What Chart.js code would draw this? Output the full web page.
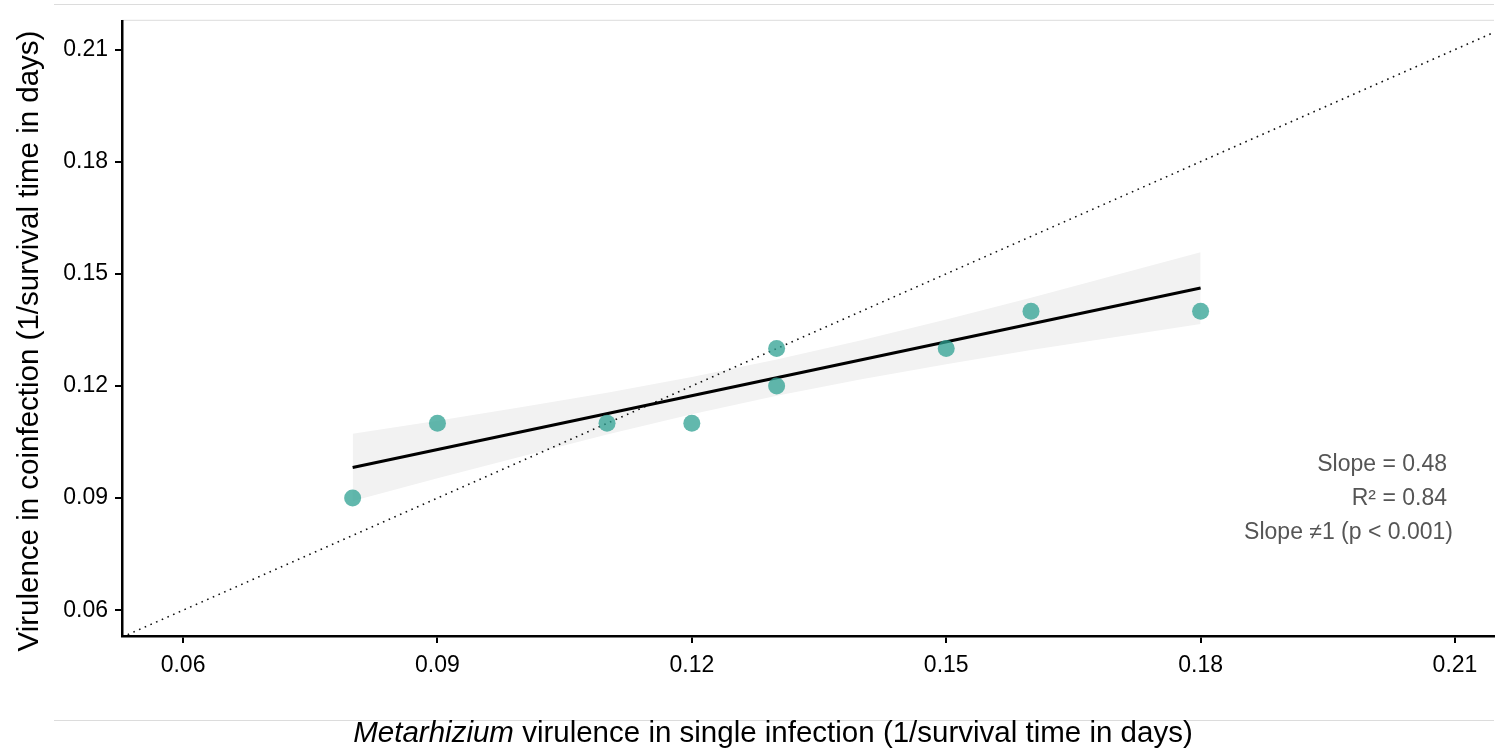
<!DOCTYPE html>
<html>
<head>
<meta charset="utf-8">
<script src="https://cdn.jsdelivr.net/npm/chart.js@4.4.1/dist/chart.umd.min.js"></script>
<style>
  html, body { margin: 0; padding: 0; background: #fff; }
  #wrap { width: 1504px; height: 752px; }
</style>
</head>
<body>
<div id="wrap"><canvas id="chart" width="1504" height="752"></canvas></div>
<script>
// data
const singleX = [0.08, 0.09, 0.11, 0.12, 0.13, 0.13, 0.15, 0.16, 0.18];
const coinfY  = [0.09, 0.11, 0.11, 0.11, 0.13, 0.12, 0.13, 0.14, 0.14];

// regression line and its confidence band
const bandX     = [0.08, 0.09, 0.10, 0.11, 0.12, 0.13, 0.14, 0.15, 0.16, 0.17, 0.18];
const bandUpper = [0.1072, 0.1107, 0.1144, 0.1182, 0.1224, 0.1271, 0.1322, 0.1378, 0.1436, 0.1497, 0.1558];
const bandLower = [0.0892, 0.0953, 0.1012, 0.1070, 0.1124, 0.1174, 0.1218, 0.1258, 0.1296, 0.1331, 0.1366];
const fitX = [0.08, 0.18];
const fitY = [0.0982, 0.1462];

// 1:1 reference line
const refLine = [0.0528, 0.2146];

const xTicks = [0.06, 0.09, 0.12, 0.15, 0.18, 0.21];
const yTicks = [0.06, 0.09, 0.12, 0.15, 0.18, 0.21];

const statsText = ['Slope = 0.48', 'R\u00B2 = 0.84', 'Slope \u22601 (p < 0.001)'];

const font = '"Liberation Sans", Arial, sans-serif';
const teal = 'rgba(46,160,146,0.75)';

const pts = (xs, ys) => xs.map((x, i) => ({ x: x, y: ys[i] }));

// axis titles, stats text and the light frame lines
const decor = {
    id: 'decor',
    beforeDraw(chart) {
        const c = chart.ctx;
        const a = chart.chartArea;
        c.save();
        c.strokeStyle = '#dcdcdc';
        c.lineWidth = 1;
        c.beginPath();
        c.moveTo(54, 4.5); c.lineTo(a.right, 4.5);
        c.moveTo(a.left, a.top - 0.5); c.lineTo(a.right, a.top - 0.5);
        c.moveTo(54, 720.5); c.lineTo(a.right, 720.5);
        c.stroke();
        c.restore();
    },
    afterDraw(chart) {
        const c = chart.ctx;
        const a = chart.chartArea;
        c.save();
        c.fillStyle = '#000';

        // y title
        c.font = '29.5px ' + font;
        c.translate(38, 341);
        c.rotate(-Math.PI / 2);
        c.textAlign = 'center';
        c.textBaseline = 'alphabetic';
        c.fillText('Virulence in coinfection (1/survival time in days)', 0, 0);
        c.setTransform(1, 0, 0, 1, 0, 0);

        // x title, genus in italics
        const it = 'Metarhizium';
        const rest = ' virulence in single infection (1/survival time in days)';
        c.font = 'italic 29.5px ' + font;
        const w1 = c.measureText(it).width;
        c.font = '29.5px ' + font;
        const w2 = c.measureText(rest).width;
        const x0 = 773 - (w1 + w2) / 2;
        c.textAlign = 'left';
        c.font = 'italic 29.5px ' + font;
        c.fillText(it, x0, 742);
        c.font = '29.5px ' + font;
        c.fillText(rest, x0 + w1, 742);

        // stats
        c.fillStyle = '#555';
        c.font = '23px ' + font;
        c.textAlign = 'right';
        c.textBaseline = 'middle';
        statsText.forEach((t, i) => {
            const right = i === 2 ? a.right - 41 : a.right - 47;
            c.fillText(t, right, 465 + i * 34);
        });
        c.restore();
    }
};

new Chart(document.getElementById('chart'), {
    type: 'scatter',
    data: {
        datasets: [
            {
                label: 'points',
                data: pts(singleX, coinfY),
                backgroundColor: teal,
                borderWidth: 0,
                pointRadius: 8.5,
                order: 0
            },
            {
                label: 'fit',
                data: pts(fitX, fitY),
                showLine: true,
                borderColor: '#000',
                borderWidth: 3,
                pointRadius: 0,
                order: 1
            },
            {
                label: '1:1',
                data: pts(refLine, refLine),
                showLine: true,
                borderColor: '#111',
                borderWidth: 1.6,
                borderDash: [1.6, 4.6],
                pointRadius: 0,
                order: 2
            },
            {
                label: 'upper',
                data: pts(bandX, bandUpper),
                showLine: true,
                borderWidth: 0,
                borderColor: 'rgba(0,0,0,0)',
                backgroundColor: '#f2f2f2',
                fill: '+1',
                pointRadius: 0,
                order: 3
            },
            {
                label: 'lower',
                data: pts(bandX, bandLower),
                showLine: true,
                borderWidth: 0,
                borderColor: 'rgba(0,0,0,0)',
                pointRadius: 0,
                order: 4
            }
        ]
    },
    options: {
        responsive: false,
        animation: false,
        layout: { padding: { left: 0, top: 18, right: 10, bottom: 0 } },
        plugins: {
            legend: { display: false },
            tooltip: { enabled: false }
        },
        scales: {
            x: {
                type: 'linear',
                min: 0.0528,
                max: 0.2146,
                afterBuildTicks: s => { s.ticks = xTicks.map(v => ({ value: v })); },
                afterFit: s => { s.height = 116; },
                border: { display: true, color: '#000', width: 2.5 },
                grid: { drawOnChartArea: false, drawTicks: true, tickLength: 7, color: '#000', lineWidth: 2 },
                ticks: {
                    color: '#000',
                    font: { family: font, size: 23 },
                    padding: 9,
                    maxRotation: 0,
                    callback: v => v.toFixed(2)
                }
            },
            y: {
                type: 'linear',
                min: 0.0531,
                max: 0.2177,
                afterBuildTicks: s => { s.ticks = yTicks.map(v => ({ value: v })); },
                afterFit: s => { s.width = 122; },
                border: { display: true, color: '#000', width: 2.5 },
                grid: { drawOnChartArea: false, drawTicks: true, tickLength: 7, color: '#000', lineWidth: 2 },
                ticks: {
                    color: '#000',
                    font: { family: font, size: 23 },
                    padding: 7,
                    callback: v => v.toFixed(2)
                }
            }
        }
    },
    plugins: [decor]
});
</script>
</body>
</html>
